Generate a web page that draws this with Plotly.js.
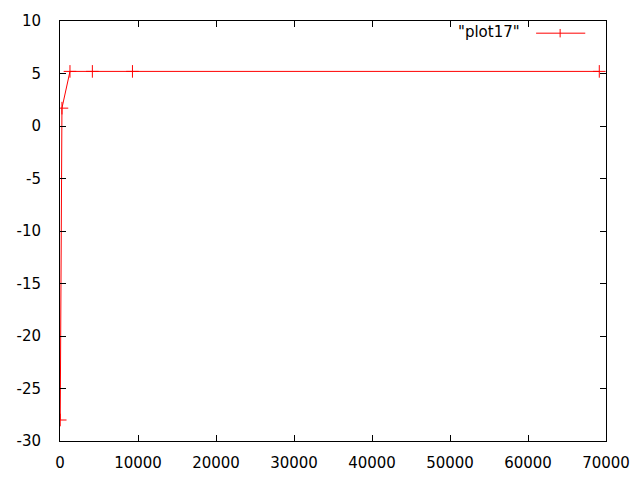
<!DOCTYPE html>
<html>
<head>
<meta charset="utf-8">
<script src="https://cdn.plot.ly/plotly-3.0.1.min.js"></script>
<style>html,body{margin:0;padding:0;background:#fff;}#chart{width:640px;height:480px;}</style>
</head>
<body>
<div id="chart"></div>
<script>
const seriesName = '"plot17"';
const xValues = [30, 250, 1280, 4150, 9290, 69140];
const yValues = [-28, 1.7, 5.2, 5.2, 5.2, 5.2];
const xTickVals = [0, 10000, 20000, 30000, 40000, 50000, 60000, 70000];
const yTickVals = [-30, -25, -20, -15, -10, -5, 0, 5, 10];

const font = {family: 'DejaVu Sans, sans-serif', size: 15, color: '#000'};

const trace = {
  x: xValues, y: yValues, type: 'scatter', mode: 'lines',
  name: seriesName, showlegend: false,
  line: {color: '#ff0000', width: 1}
};
const traceMarkers = {
  x: xValues, y: yValues, type: 'scatter', mode: 'markers', showlegend: false, hoverinfo: 'skip',
  marker: {symbol: 'cross-thin-open', size: 9, color: '#ff0000', line: {color: '#ff0000', width: 1}}
};

const axisCommon = {
  showgrid: false, zeroline: false, showline: true, linecolor: '#000', linewidth: 1,
  mirror: 'allticks', ticks: 'inside', ticklen: 6, tickwidth: 1, tickcolor: '#000',
  tickfont: font, tickmode: 'array', layer: 'above traces'
};

const layout = {
  width: 640, height: 480,
  margin: {l: 60, r: 34, t: 21, b: 39},
  paper_bgcolor: '#fff', plot_bgcolor: '#fff',
  font: font,
  xaxis: Object.assign({}, axisCommon, {range: [0, 70000], tickvals: xTickVals, ticktext: xTickVals.map(String), ticklabelstandoff: 8}),
  yaxis: Object.assign({}, axisCommon, {range: [-30, 10], tickvals: yTickVals, ticktext: yTickVals.map(String), ticklabelstandoff: 15}),
  annotations: [{
    xref: 'paper', yref: 'paper', x: 0.846, y: 0.974, xanchor: 'right', yanchor: 'middle',
    text: seriesName, showarrow: false, font: font
  }],
  shapes: [
    {type: 'line', xref: 'paper', yref: 'paper', x0: 0.872, x1: 0.962, y0: 0.971, y1: 0.971, line: {color: '#ff0000', width: 1}},
    {type: 'line', xref: 'paper', yref: 'paper', x0: 0.916, x1: 0.916, y0: 0.961, y1: 0.981, line: {color: '#ff0000', width: 1}}
  ]
};

Plotly.newPlot('chart', [trace, traceMarkers], layout, {staticPlot: true, displayModeBar: false});
</script>
</body>
</html>
